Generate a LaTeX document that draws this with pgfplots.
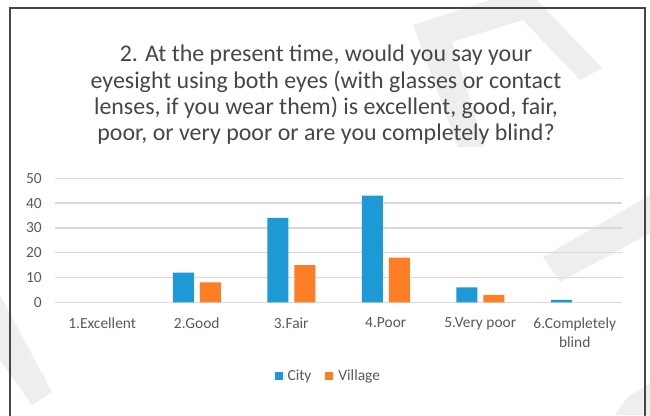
\documentclass[border=0pt]{standalone}
\usepackage{fontspec}
\setmainfont{Carlito}
\usepackage{pgfplots}
\pgfplotsset{compat=1.18}
\definecolor{cityblue}{RGB}{29,154,214}
\definecolor{villorange}{RGB}{253,126,36}
\definecolor{txtgray}{RGB}{89,89,89}
\definecolor{titlegray}{RGB}{70,70,70}
\definecolor{gridgray}{RGB}{217,217,217}
\definecolor{wmgray}{RGB}{238,238,238}
\definecolor{framegray}{RGB}{70,70,70}

\begin{document}
\begin{tikzpicture}[x=1bp,y=1bp]
\useasboundingbox (0,0) rectangle (650,415);
% faint page watermark behind the chart
\fill[wmgray] (413,390) -- (490,415) -- (537,415) -- (602,347) -- (580,335)
  -- (523,395) -- (452,373) -- (485,268) -- (458,268) -- cycle;
\fill[wmgray] (650,220) -- (543,158) -- (560,133) -- (650,182) -- cycle;
\fill[wmgray] (627,17) -- (650,32) -- (650,0) -- (615,0) -- cycle;
\fill[wmgray] (0,120) -- (52,23) -- (32,10) -- (0,55) -- cycle;
% chart frame
\draw[framegray, line width=1.2bp] (10,-2) -- (10,407) -- (645,407) -- (645,-2);
% title
\node[align=center, text=titlegray, font=\fontsize{24}{26.5}\selectfont]
  at (326,320) {2. At the present time, would you say your\\
  eyesight using both eyes (with glasses or contact\\
  lenses, if you wear them) is excellent, good, fair,\\
  poor, or very poor or are you completely blind?};
\begin{axis}[
  at={(55bp,112.7bp)}, anchor=south west,
  scale only axis, width=567bp, height=124bp,
  xmin=0.5, xmax=6.5, ymin=0, ymax=50,
  ybar, bar width=21bp,
  xtick={1,...,6},
  xticklabels={1.Excellent, 2.Good, 3.Fair, 4.Poor, 5.Very poor, {6.Completely\\blind}},
  ytick={0,10,...,50},
  major tick length=0pt,
  axis line style={draw=none},
  ymajorgrids,
  grid style={gridgray, line width=1.3bp},
  /pgf/number format/assume math mode=true,
  tick label style={font=\fontsize{15.5}{19}\selectfont, text=txtgray},
  yticklabel style={anchor=east, inner sep=0pt, xshift=-13bp},
  xticklabel style={align=center, anchor=north, inner sep=0pt, yshift=-15bp},
  legend style={at={(0.482,-0.594)}, anchor=center, draw=none, fill=none,
    legend columns=-1, font=\fontsize{15.5}{19}\selectfont, text=txtgray,
    /tikz/every even column/.append style={column sep=12bp}},
  sqlegend/.style={legend image code/.code={\fill[##1] (0bp,-4bp) rectangle (8bp,4bp); \path (0bp,0bp) -- (11bp,0bp);}},
]
\addplot[bar shift=-13.5bp, fill=cityblue, draw=none, sqlegend]
  coordinates {(2,12) (3,34) (4,43) (5,6) (6,1)};
\addplot[bar shift=13.5bp, fill=villorange, draw=none, sqlegend]
  coordinates {(2,8) (3,15) (4,18) (5,3)};
\legend{City, Village}
\end{axis}
\end{tikzpicture}
\end{document}
